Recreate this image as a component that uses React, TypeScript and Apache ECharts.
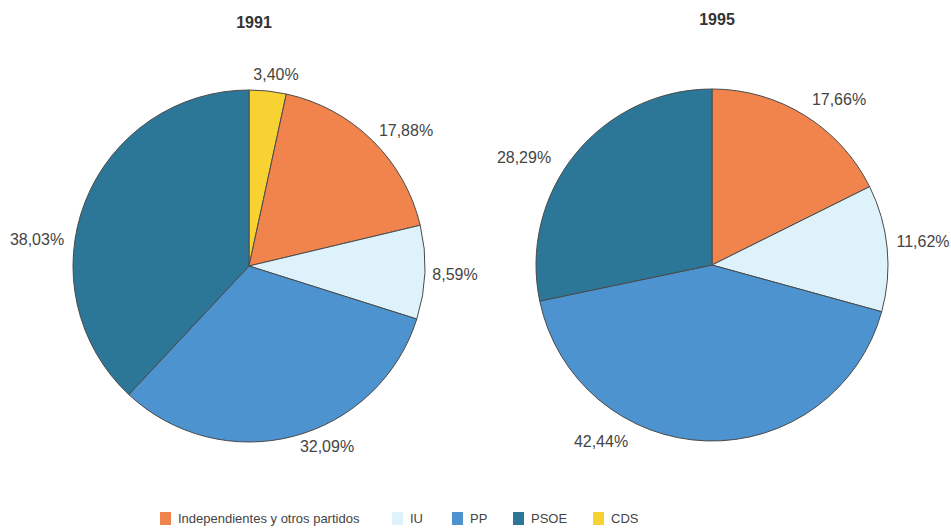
import React, { useEffect, useRef } from "react";
import * as echarts from "echarts";

const categories = ["Independientes y otros partidos", "IU", "PP", "PSOE", "CDS"];
const colors = ["#F0844C", "#DDF2FA", "#4C93CF", "#2C7797", "#F8D232"];
const years = ["1991", "1995"];

// slice order clockwise from 12 o'clock, as in the reference
const order1991 = ["CDS", "Independientes y otros partidos", "IU", "PP", "PSOE"];
const values1991 = [3.4, 17.88, 8.59, 32.09, 38.03];
const order1995 = ["Independientes y otros partidos", "IU", "PP", "PSOE"];
const values1995 = [17.66, 11.62, 42.44, 28.29];

// label offsets from each pie centre (px)
const labelOffsets1991 = [[27, -192], [157, -136], [206, 8], [78, 180], [-212, -27]];
const labelOffsets1995 = [[127, -166], [211, -24], [-111, 176], [-188, -108]];

const centers = [[249, 266], [712, 265]];
const legendLefts = [160, 392, 452, 513, 593];

const fmt = (v: number) => v.toFixed(2).replace(".", ",") + "%";
const FONT = "Liberation Sans, Arial, sans-serif";

export default function App() {
  const ref = useRef<HTMLDivElement>(null);
  useEffect(() => {
    if (!ref.current) return;
    const chart = echarts.init(ref.current, null, { renderer: "svg" });
    const orders = [order1991, order1995];
    const allValues = [values1991, values1995];
    const allOffsets = [labelOffsets1991, labelOffsets1995];
    const series = allValues.map((vals, si) => ({
      type: "pie",
      name: years[si],
      center: centers[si],
      radius: 176,
      startAngle: 90,
      clockwise: true,
      animation: false,
      silent: true,
      itemStyle: { borderColor: "#4a4a4a", borderWidth: 1 },
      label: {
        show: true,
        formatter: (p: any) => fmt(p.value),
        color: "#444",
        fontSize: 16,
        fontFamily: FONT,
        overflow: "none",
        width: 80,
      },
      labelLine: { show: false },
      labelLayout: (p: any) => {
        const off = allOffsets[si][p.dataIndex];
        return {
          x: centers[si][0] + off[0],
          y: centers[si][1] + off[1],
          align: "center",
          verticalAlign: "middle",
        };
      },
      data: orders[si].map((c, i) => ({
        name: c,
        value: vals[i],
        itemStyle: { color: colors[categories.indexOf(c)] },
      })),
    }));
    chart.setOption({
      animation: false,
      backgroundColor: "#ffffff",
      title: years.map((y, i) => ({
        text: y,
        left: centers[i][0],
        top: i === 0 ? 9 : 6,
        textAlign: "center",
        textStyle: { fontSize: 16, fontWeight: "bold", color: "#333", fontFamily: FONT },
      })),
      legend: categories.map((c, i) => ({
        data: [c],
        left: legendLefts[i],
        top: 512,
        padding: 0,
        itemWidth: 11,
        itemHeight: 13,
        icon: "rect",
        selectedMode: false,
        itemStyle: { borderWidth: 0 },
        textStyle: { fontSize: 13, color: "#444", fontFamily: FONT, padding: [0, 0, 0, 2] },
      })),
      series,
    } as any);
    return () => chart.dispose();
  }, []);
  return <div ref={ref} style={{ width: 951, height: 528, position: "absolute", left: 0, top: 0 }} />;
}
